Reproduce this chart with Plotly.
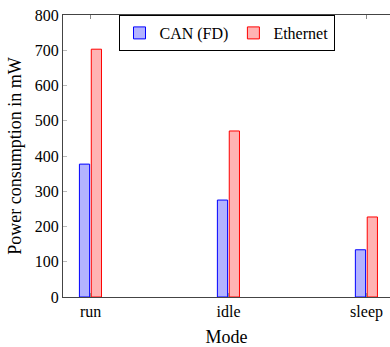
import plotly.graph_objects as go

modes = ["run", "idle", "sleep"]
can_fd = [377, 275, 134]
ethernet = [703, 471, 227]
y_ticks = [0, 100, 200, 300, 400, 500, 600, 700, 800]

xpos = list(range(len(modes)))
bw = 0.074

fig = go.Figure()
fig.add_trace(go.Bar(
    x=xpos, y=can_fd, name="CAN (FD)", width=bw, offset=-0.081,
    marker=dict(color="#B3B3FF", line=dict(color="#0000FF", width=1)),
))
fig.add_trace(go.Bar(
    x=xpos, y=ethernet, name="Ethernet", width=bw, offset=0.005,
    marker=dict(color="#FFB3B3", line=dict(color="#FF0000", width=1)),
))

family = "Liberation Serif, Times New Roman, serif"
font = dict(family=family, size=16, color="black")
tfont = dict(family=family, size=18, color="black")
fig.update_layout(
    width=390, height=347,
    margin=dict(l=63, r=0, t=15, b=50),
    paper_bgcolor="white", plot_bgcolor="white",
    font=font,
    showlegend=True,
    legend=dict(orientation="h", x=0.5, xanchor="center", y=1, yanchor="top",
                bordercolor="black", borderwidth=1, bgcolor="white",
                font=font, itemwidth=30, tracegroupgap=0),
    xaxis=dict(range=[-0.2, 2.17], tickvals=xpos, ticktext=modes,
               showgrid=False, zeroline=False, showline=True, linecolor="#444",
               linewidth=1, mirror="ticks", ticks="inside", ticklen=4, tickcolor="#888",
               title=dict(text="Mode", standoff=12, font=tfont), tickfont=font),
    yaxis=dict(range=[0, 800], tickvals=y_ticks, showgrid=False, zeroline=False,
               showline=True, linecolor="#444", linewidth=1, ticks="inside",
               ticklen=4, tickcolor="#bbb",
               title=dict(text="Power consumption in mW", standoff=8, font=tfont),
               tickfont=font),
)
fig.write_html("out.html", config={"displayModeBar": False},
               post_script="document.body.style.margin='0';")
